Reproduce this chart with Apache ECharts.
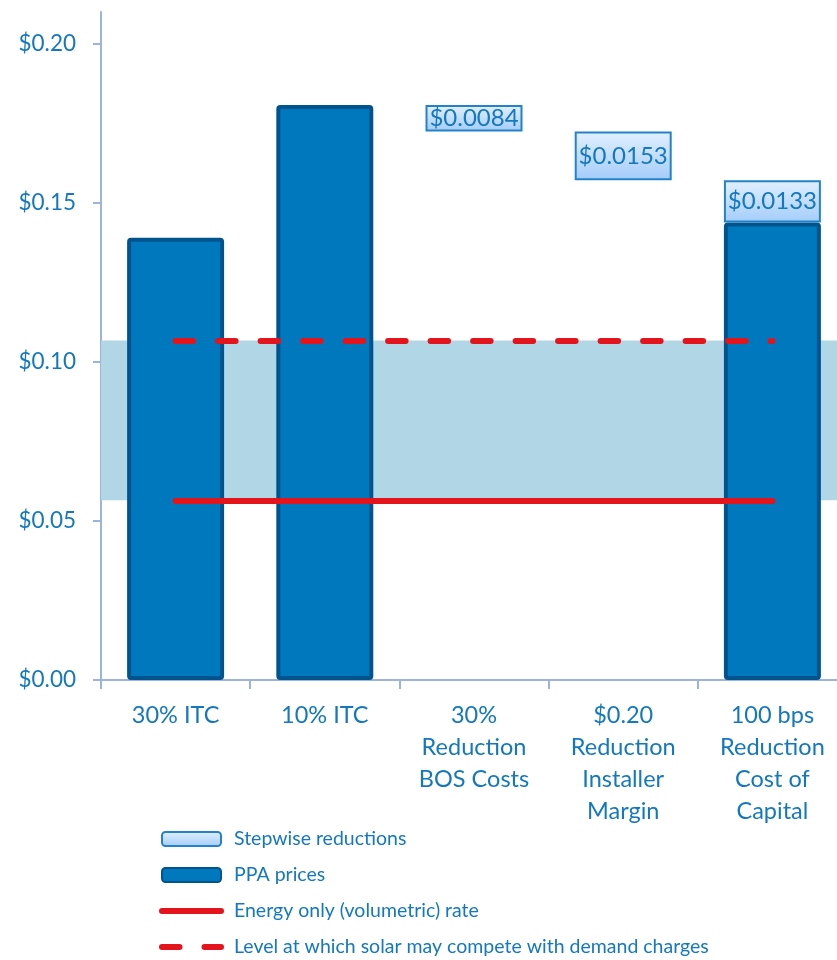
<!DOCTYPE html>
<html>
<head>
<meta charset="utf-8">
<script src="https://cdn.jsdelivr.net/npm/echarts@6/dist/echarts.min.js"></script>
<style>
	html, body { margin: 0; padding: 0; background: #fff; overflow: hidden; }
	#chart1 { width: 847px; height: 960px; }
</style>
</head>
<body>
<div id="chart1"></div>
<script>
var categoryList = ['30% ITC', '10% ITC', '30%\nReduction\nBOS Costs', '$0.20\nReduction\nInstaller\nMargin', '100 bps\nReduction\nCost of\nCapital'];
var ppaPriceList = [0.139, 0.1808, null, null, 0.1438];
var stepwiseList = [null, null, 0.0084, 0.0153, 0.0133];
var energyRate = 0.0565;
var demandLevel = 0.1067;
var yTickList = [0, 0.05, 0.10, 0.15, 0.20];
var legenderList = ['Stepwise reductions', 'PPA prices', 'Energy only (volumetric) rate', 'Level at which solar may compete with demand charges'];

// invisible base so the reduction boxes float
var baseList = [];
var running = ppaPriceList[1];
for (var i = 0; i < categoryList.length; i++) {
	if (stepwiseList[i] != null && ppaPriceList[i] == null) {
		running = running - stepwiseList[i];
		baseList.push(running);
	} else {
		baseList.push(0);
	}
}

var textBlue = '#1478BE';
var red = '#E3141C';
var hideDot = { color: 'rgba(0,0,0,0)', borderWidth: 0 };
var dash = [17.5, 25];

// chart is 10px wider than the window: the last category runs off the right edge
var chart = echarts.init(document.getElementById('chart1'));
chart.setOption({
	animation: false,
	textStyle: { fontFamily: 'Lato' },
	grid: { left: 101, right: 0, top: 12, bottom: 280 },
	legend: {
		data: [
			{ name: legenderList[0] },
			{ name: legenderList[1] },
			{ name: legenderList[2], itemStyle: hideDot, lineStyle: { width: 6 } },
			{ name: legenderList[3], itemStyle: hideDot, lineStyle: { width: 6 } }
		],
		orient: 'vertical',
		left: 159,
		top: 829,
		itemWidth: 59,
		itemHeight: 14,
		itemGap: 16,
		padding: 0,
		selectedMode: false,
		textStyle: { fontSize: 19.5, color: textBlue, fontFamily: 'Lato', padding: [0, 0, 0, 8] }
	},
	xAxis: [{
		type: 'category',
		data: categoryList,
		axisLine: { lineStyle: { color: '#9DB3DC', width: 2 } },
		axisTick: { show: true, length: 9, lineStyle: { color: '#9DB3DC', width: 2 } },
		axisLabel: { interval: 0, margin: 19, fontSize: 23.5, lineHeight: 32, color: textBlue }
	}],
	yAxis: [{
		type: 'value',
		min: 0,
		max: 0.21,
		splitLine: { show: false },
		axisLine: { show: true, lineStyle: { color: '#9DB3DC', width: 2 } },
		axisTick: { show: true, length: 8, customValues: yTickList, lineStyle: { color: '#9DB3DC', width: 2 } },
		axisLabel: {
			customValues: yTickList,
			margin: 25,
			fontSize: 22.5,
			color: textBlue,
			formatter: function(v) { return '$' + v.toFixed(2); }
		}
	}],
	series: [{
		name: 'base',
		type: 'bar',
		stack: 'total',
		barWidth: '65%',
		data: baseList,
		itemStyle: { color: 'rgba(0,0,0,0)' },
		silent: true,
		markArea: {
			silent: true,
			itemStyle: { color: '#B1D7E7' },
			data: [[{ yAxis: energyRate }, { yAxis: demandLevel }]]
		}
	}, {
		name: 'PPA prices',
		type: 'bar',
		stack: 'total',
		data: ppaPriceList,
		itemStyle: { color: '#0078BE', borderColor: '#00548E', borderWidth: 4, borderRadius: 2 }
	}, {
		name: 'Stepwise reductions',
		type: 'bar',
		stack: 'total',
		data: stepwiseList,
		itemStyle: {
			color: new echarts.graphic.LinearGradient(0, 0, 0, 1, [
				{ offset: 0, color: '#E2F0FF' },
				{ offset: 1, color: '#A3CCFA' }
			]),
			borderColor: '#2482C8',
			borderWidth: 2
		},
		label: {
			show: true,
			position: 'inside',
			fontSize: 24,
			color: textBlue,
			formatter: function(p) { return '$' + p.value.toFixed(4); }
		}
	}, {
		name: 'Energy only (volumetric) rate',
		type: 'line',
		data: [],
		symbol: 'none',
		lineStyle: { color: red, width: 6, cap: 'round' },
		itemStyle: { color: red },
		markLine: {
			silent: true,
			symbol: 'none',
			label: { show: false },
			lineStyle: { color: red, width: 6, type: 'solid', cap: 'round' },
			data: [[{ coord: [0, energyRate] }, { coord: [4, energyRate] }]]
		}
	}, {
		name: 'Level at which solar may compete with demand charges',
		type: 'line',
		data: [],
		symbol: 'none',
		lineStyle: { color: red, width: 6, type: dash, cap: 'round' },
		itemStyle: { color: red },
		markLine: {
			silent: true,
			symbol: 'none',
			label: { show: false },
			lineStyle: { color: red, width: 6, type: dash, cap: 'round' },
			data: [[{ coord: [0, demandLevel] }, { coord: [4, demandLevel] }]]
		}
	}]
});
</script>
</body>
</html>
